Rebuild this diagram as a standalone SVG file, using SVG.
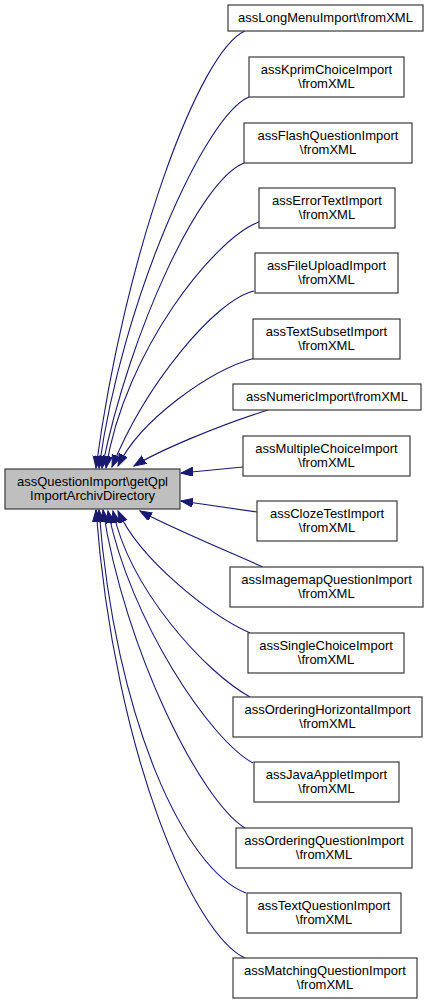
<svg xmlns="http://www.w3.org/2000/svg" width="431" height="1005" viewBox="0 0 431 1005">
<defs>
<style>
.n rect{fill:#ffffff;stroke:#3a3a3a;stroke-width:1.2}
.n.main rect{fill:#bfbfbf}
.n text{font-family:"Liberation Sans",Arial,Helvetica,sans-serif;font-size:13px;fill:#000;text-anchor:middle}
.e path{fill:none;stroke:#191970;stroke-width:1.1;marker-end:url(#ah)}
</style>
<marker id="ah" markerUnits="userSpaceOnUse" markerWidth="14" markerHeight="10" refX="12" refY="4.5" orient="auto">
<path d="M0,0 L12,4.5 L0,9 z" fill="#191970" stroke="#191970" stroke-width="1"/>
</marker>
</defs>
<rect width="431" height="1005" fill="#ffffff"/>
<g id="edges" class="e">
<path d="M245,31 C200,50 125,250 96,468"/>
<path d="M249,97 C205,115 122,300 99,468"/>
<path d="M244,163 C200,180 130,330 102,468"/>
<path d="M259,222 C215,238 125,350 106,468"/>
<path d="M254,291 C215,300 145,385 112,467"/>
<path d="M255,358 C210,370 140,420 118,466"/>
<path d="M268,410 C220,425 160,450 134,466"/>
<path d="M243,467 L181,473"/>
<path d="M257,512 L181,501"/>
<path d="M263,567 C220,548 165,525 140,511"/>
<path d="M250,633 C210,615 140,560 118,511"/>
<path d="M250,697 C205,672 130,590 113,511"/>
<path d="M253,763 C210,740 130,620 108,511"/>
<path d="M245,828 C200,800 125,650 103,510"/>
<path d="M246,893 C185,870 115,720 99,510"/>
<path d="M245,958 C195,935 115,760 96,510"/>
</g>
<g id="main" class="n main"><rect x="5" y="469" width="175" height="40"/><text x="92.5" y="486">assQuestionImport\getQpl</text><text x="92.5" y="500">ImportArchivDirectory</text></g>
<g id="n1" class="n"><rect x="228" y="5" width="195" height="26"/><text x="325.5" y="22">assLongMenuImport\fromXML</text></g>
<g id="n2" class="n"><rect x="249" y="57" width="155" height="40"/><text x="326.5" y="74">assKprimChoiceImport</text><text x="326.5" y="88">\fromXML</text></g>
<g id="n3" class="n"><rect x="244" y="123" width="168" height="40"/><text x="328" y="140">assFlashQuestionImport</text><text x="328" y="154">\fromXML</text></g>
<g id="n4" class="n"><rect x="259" y="188" width="136" height="40"/><text x="327" y="205">assErrorTextImport</text><text x="327" y="219">\fromXML</text></g>
<g id="n5" class="n"><rect x="255" y="253" width="143" height="40"/><text x="326.5" y="270">assFileUploadImport</text><text x="326.5" y="284">\fromXML</text></g>
<g id="n6" class="n"><rect x="253" y="319" width="147" height="40"/><text x="326.5" y="336">assTextSubsetImport</text><text x="326.5" y="350">\fromXML</text></g>
<g id="n7" class="n"><rect x="233" y="384" width="188" height="26"/><text x="327" y="401">assNumericImport\fromXML</text></g>
<g id="n8" class="n"><rect x="243" y="436" width="167" height="40"/><text x="326.5" y="453">assMultipleChoiceImport</text><text x="326.5" y="467">\fromXML</text></g>
<g id="n9" class="n"><rect x="257" y="501" width="140" height="40"/><text x="327" y="518">assClozeTestImport</text><text x="327" y="532">\fromXML</text></g>
<g id="n10" class="n"><rect x="230" y="567" width="193" height="40"/><text x="326.5" y="584">assImagemapQuestionImport</text><text x="326.5" y="598">\fromXML</text></g>
<g id="n11" class="n"><rect x="248" y="633" width="156" height="40"/><text x="326" y="650">assSingleChoiceImport</text><text x="326" y="664">\fromXML</text></g>
<g id="n12" class="n"><rect x="233" y="697" width="189" height="40"/><text x="327.5" y="714">assOrderingHorizontalImport</text><text x="327.5" y="728">\fromXML</text></g>
<g id="n13" class="n"><rect x="254" y="762" width="145" height="40"/><text x="326.5" y="779">assJavaAppletImport</text><text x="326.5" y="793">\fromXML</text></g>
<g id="n14" class="n"><rect x="236" y="828" width="176" height="40"/><text x="324" y="845">assOrderingQuestionImport</text><text x="324" y="859">\fromXML</text></g>
<g id="n15" class="n"><rect x="247" y="893" width="154" height="40"/><text x="324" y="910">assTextQuestionImport</text><text x="324" y="924">\fromXML</text></g>
<g id="n16" class="n"><rect x="233" y="958" width="184" height="40"/><text x="325" y="975">assMatchingQuestionImport</text><text x="325" y="989">\fromXML</text></g>
</svg>
